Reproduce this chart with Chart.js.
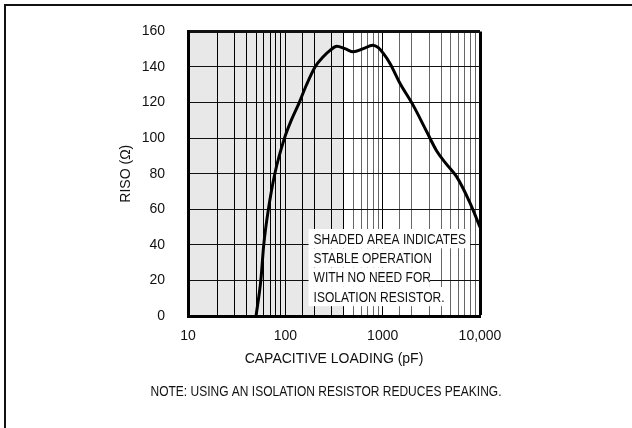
<!DOCTYPE html>
<html>
<head>
<meta charset="utf-8">
<script src="https://cdn.jsdelivr.net/npm/chart.js@4.4.1/dist/chart.umd.min.js"></script>
<style>
  html, body { margin: 0; padding: 0; background: #fff; }
  #frame { position: absolute; left: 4px; top: 4px; width: 640px; height: 440px;
           border-left: 2px solid #111; border-top: 2px solid #111; }
  #c { position: absolute; left: 0; top: 0; }
</style>
</head>
<body>
<div id="frame"></div>
<canvas id="c" width="632" height="428"></canvas>
<script>
// capacitive loading (pF) vs isolation resistor (ohm)
const capacitance = [50, 56, 60, 67, 78, 98, 115, 139, 165, 202, 245, 288, 337, 410, 500, 632, 790, 902, 1016, 1190, 1500, 2060, 2830, 3590, 4370, 5770, 7890, 10000];
const riso = [0, 20, 40, 60, 80, 100, 110, 120, 130, 140, 145.7, 149.3, 151.6, 150.3, 148.5, 150.3, 152.2, 150.9, 147.6, 142, 131, 118.4, 103.7, 92.8, 86.4, 78.2, 63.6, 50];

const xDecades = [10, 100, 1000, 10000];
const yTicks = [0, 20, 40, 60, 80, 100, 120, 140, 160];
const shadedRange = [10, 400];
const noteLines = ['SHADED AREA INDICATES', 'STABLE OPERATION', 'WITH NO NEED FOR', 'ISOLATION RESISTOR.'];
const noteAnchor = [195, 43.5];
const footNote = 'NOTE: USING AN ISOLATION RESISTOR REDUCES PEAKING.';

const FONT = '"Liberation Sans Narrow", "Liberation Sans", Arial, sans-serif';
const SQUEEZE = 0.8; // condensed look for the free text

// grey shading behind the grid
const shadePlugin = {
  id: 'shade',
  beforeDraw(chart) {
    const { ctx, chartArea, scales } = chart;
    const x0 = scales.x.getPixelForValue(shadedRange[0]);
    const x1 = scales.x.getPixelForValue(shadedRange[1]);
    ctx.save();
    ctx.fillStyle = '#e8e8e8';
    ctx.fillRect(x0, chartArea.top, x1 - x0, chartArea.bottom - chartArea.top);
    ctx.restore();
  }
};

// boxed note inside the plot and the foot note
const notePlugin = {
  id: 'notes',
  afterDatasetsDraw(chart) {
    const { ctx, scales } = chart;
    const x = scales.x.getPixelForValue(noteAnchor[0]);
    const y = scales.y.getPixelForValue(noteAnchor[1]);
    const lh = 19.3;
    ctx.save();
    ctx.font = '15px ' + FONT;
    ctx.textBaseline = 'middle';
    noteLines.forEach((t, i) => {
      const w = ctx.measureText(t).width * SQUEEZE;
      ctx.fillStyle = '#fff';
      ctx.fillRect(x - 5, y + i * lh - lh / 2, w + (i === 0 ? 9 : 4), lh);
    });
    ctx.fillStyle = '#111';
    ctx.scale(SQUEEZE, 1);
    noteLines.forEach((t, i) => ctx.fillText(t, x / SQUEEZE, y + i * lh + 1));
    ctx.textAlign = 'center';
    ctx.fillText(footNote, 326 / SQUEEZE, 392);
    ctx.restore();
  }
};

new Chart(document.getElementById('c'), {
  type: 'line',
  data: {
    datasets: [{
      data: capacitance.map((c, i) => ({ x: c, y: riso[i] })),
      borderColor: '#000',
      borderWidth: 3,
      pointRadius: 0,
      cubicInterpolationMode: 'monotone',
      fill: false
    }]
  },
  options: {
    responsive: false,
    animation: false,
    layout: { padding: { left: 114, right: 152, top: 24, bottom: 57 } },
    plugins: { legend: { display: false }, tooltip: { enabled: false } },
    scales: {
      x: {
        type: 'logarithmic',
        min: 10,
        max: 10000,
        afterFit: (s) => { s.height = 55; },
        border: { display: true, color: '#000', width: 3 },
        grid: {
          drawTicks: false,
          color: (c) => (c.tick && (c.tick.value <= shadedRange[1] || xDecades.includes(c.tick.value)) ? '#000' : '#666'),
          lineWidth: (c) => (c.tick && c.tick.value === 10000 ? 3 : 1)
        },
        ticks: {
          autoSkip: false,
          maxRotation: 0,
          padding: 12,
          color: '#111',
          font: { family: FONT, size: 14 },
          callback: (v) => (xDecades.includes(v) ? (v === 10000 ? '10,000' : String(v)) : '')
        },
        title: {
          display: true,
          text: 'CAPACITIVE LOADING (pF)',
          color: '#111',
          font: { family: FONT, size: 14 },
          padding: { top: 4, bottom: 3 }
        }
      },
      y: {
        min: 0,
        max: 160,
        afterFit: (s) => { s.width = 74; },
        afterBuildTicks: (s) => { s.ticks = yTicks.map((v) => ({ value: v })); },
        border: { display: true, color: '#000', width: 3 },
        grid: {
          drawTicks: false,
          color: '#111',
          lineWidth: (c) => (c.tick && c.tick.value === 160 ? 3 : 1)
        },
        ticks: {
          padding: 23,
          color: '#111',
          font: { family: FONT, size: 14 }
        },
        title: {
          display: true,
          text: 'RISO (Ω)',
          color: '#111',
          font: { family: FONT, size: 14 },
          padding: { top: 4, bottom: 4 }
        }
      }
    }
  },
  plugins: [shadePlugin, notePlugin]
});
</script>
</body>
</html>
